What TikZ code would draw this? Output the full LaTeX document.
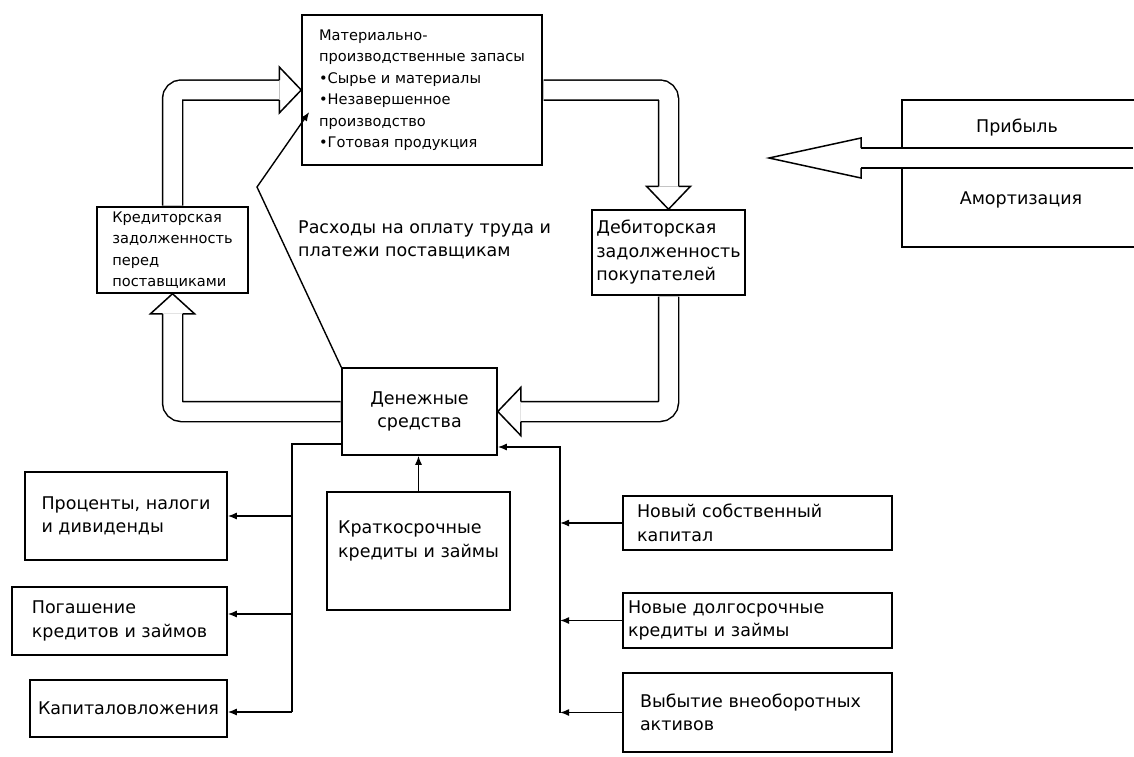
\documentclass[tikz,border=0pt]{standalone}
\usepackage{fontspec}
\setmainfont{DejaVu Sans}
\usetikzlibrary{arrows.meta}
\tikzset{%
  >={Latex[width=7pt,length=9pt]},
  % Specifications for style of nodes:
            box/.style = {rectangle, draw=black, line width=1.5pt,
                          inner sep=0pt, align=left},
          small/.style = {font=\fontsize{14.6}{21.5}\selectfont},
            big/.style = {font=\fontsize{17.5}{23.5}\selectfont},
           wire/.style = {draw=black, line width=1.4pt},
           pipe/.style = {draw=black, line width=1.5pt, double=white,
                          double distance=18.5pt, rounded corners=9pt,
                          shorten <=0.75pt},
}
% head of a hollow flow: tip, direction, length, half width
\newcommand{\pipehead}[4]{%
  \begin{scope}[shift={(#1)}, rotate=#2]
    \draw[line width=1.5pt, line join=miter]
      (-#3,10) -- (-#3,#4) -- (0,0) -- (-#3,-#4) -- (-#3,-10);
  \end{scope}}

\begin{document}
\begin{tikzpicture}[x=1pt, y=-1pt]
  \useasboundingbox[fill=white] (0,0) rectangle (1134,756);
  % Specification of nodes (position, etc.)
  \node (mpz)    [box, small, minimum width=240, minimum height=150] at (422,90)
        {Материально-\\производственные запасы\\•Сырье и материалы\\•Незавершенное\\производство\\•Готовая продукция};
  \node (kred)   [box, small, minimum width=151, minimum height=86] at (172.5,250)
        {Кредиторская\\задолженность\\перед\\поставщиками};
  \node (deb)    [box, big, minimum width=153, minimum height=85] at (668.5,252.5)
        {Дебиторская\\задолженность\\покупателей};
  \node (den)    [box, big, align=center, minimum width=155, minimum height=87] at (419.5,411.5)
        {Денежные\\средства};
  \node (krat)   [box, big, minimum width=183, minimum height=118] at (418.5,551)
        {Краткосрочные\\кредиты и займы\\~};
  \node (proc)   [box, big, minimum width=202, minimum height=88] at (126,516)
        {Проценты, налоги\\и дивиденды};
  \node (pog)    [box, big, minimum width=215, minimum height=68] at (119.5,621)
        {Погашение\\кредитов и займов};
  \node (kap)    [box, big, minimum width=197, minimum height=57] at (128.5,708.5)
        {Капиталовложения};
  \node (eq)     [box, big, text width=241, inner xsep=14, minimum height=54] at (757.5,523)
        {Новый собственный\\капитал};
  \node (ltl)    [box, big, text width=259, inner xsep=5, minimum height=55] at (757.5,620.5)
        {Новые долгосрочные\\кредиты и займы};
  \node (disp)   [box, big, text width=235, inner xsep=17, minimum height=79] at (757.5,712.5)
        {Выбытие внеоборотных\\активов};

  \node (pay)    [big, align=left, anchor=west, inner sep=0pt] at (298,240)
        {Расходы на оплату труда и\\платежи поставщикам};
  \node (pribyl) [big] at (1017,128) {Прибыль};
  \node (amort)  [big] at (1021,200) {Амортизация};
  \draw[line width=1.5pt] (1134,100) -| (902,247) -- (1134,247);

  \coordinate (srcend) at (1134,158);
  \coordinate (profit) at (769,158);
  \coordinate (bend)   at (257,187);
  \coordinate (lbus)   at (292,444);
  \coordinate (rbus)   at (560,447);
  \coordinate (pogin)  at ([yshift=7pt]pog.east);
  \coordinate (kapin)  at ([yshift=-3.5pt]kap.east);

  % hollow flows
  \draw[pipe, shorten >=22pt] (kred.north) |- (mpz.west);
  \pipehead{mpz.west}{0}{22}{23}
  \draw[pipe, shorten >=23pt] (mpz.east) -| (deb.north);
  \pipehead{deb.north}{-90}{23}{22}
  \draw[pipe, shorten >=23pt] (deb.south) |- (den.east);
  \pipehead{den.east}{180}{23}{24}
  \draw[pipe, shorten >=20pt] (den.west) -| (kred.south);
  \pipehead{kred.south}{90}{20}{22}
  \draw[pipe, shorten >=92pt] (srcend) -- (profit);
  \pipehead{profit}{180}{92}{20}

  % thin connectors
  \draw[wire, ->] (den.north west) -- (bend) -- ([xshift=8pt,yshift=-22pt]mpz.west);
  \draw[wire, ->] (krat.north) -- (krat.north |- den.south);

  \draw[wire] (lbus -| den.west) -- (lbus) -- (lbus |- kapin);
  \draw[wire, ->] (lbus |- proc.east) -- (proc.east);
  \draw[wire, ->] (lbus |- pogin) -- (pogin);
  \draw[wire, ->] (lbus |- kapin) -- (kapin);

  \draw[wire, ->] (rbus |- disp.west) -- (rbus) -- (rbus -| den.east);
  \draw[wire, ->] (eq.west) -- (rbus |- eq.west);
  \draw[wire, ->] (ltl.west) -- (rbus |- ltl.west);
  \draw[wire, ->] (disp.west) -- (rbus |- disp.west);
\end{tikzpicture}
\end{document}
